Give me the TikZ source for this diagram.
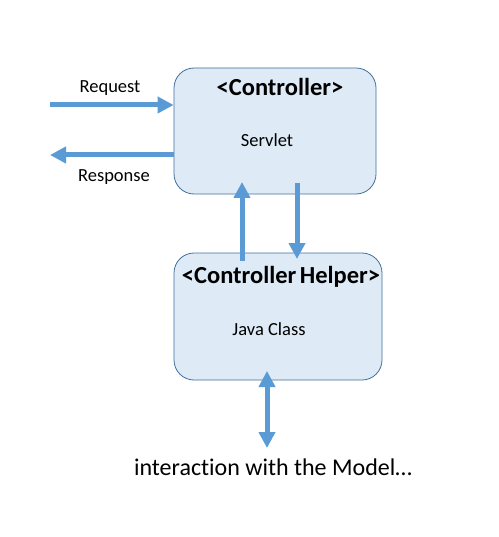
\documentclass[tikz,border=0pt]{standalone}
\usepackage{fontspec}
\setmainfont{Carlito}[Ligatures={NoCommon}]
\usetikzlibrary{arrows.meta}
\definecolor{boxfill}{HTML}{DEEAF6}
\definecolor{boxdraw}{HTML}{41719C}
\definecolor{arrowblue}{HTML}{5B9BD5}
\begin{document}
\begin{tikzpicture}[x=1pt,y=-1pt,
  box/.style={draw=boxdraw,fill=boxfill,line width=0.8pt,rounded corners=20pt,inner sep=0pt},
  fat/.style={draw=arrowblue,line width=5pt,-{Triangle[width=16pt,length=16pt]}},
  fatboth/.style={draw=arrowblue,line width=5pt,{Triangle[width=16pt,length=16pt]}-{Triangle[width=16pt,length=16pt]}},
  lbl/.style={font=\fontsize{18.5}{21}\selectfont,inner sep=0pt},
  ttl/.style={font=\fontsize{24.5}{28}\selectfont\bfseries,inner sep=0pt}]
\path[use as bounding box,fill=white] (0,0) rectangle (498,537);
\node[box,minimum width=202pt,minimum height=126pt] (ctrl) at (275,131) {};
\node[box,minimum width=208pt,minimum height=127pt] (helper) at (278,316.5) {};
\node[ttl] (ctrltitle) at (280,87) {<Controller>};
\node[lbl] (servlet) at (267,140) {Servlet};
\node[ttl] (helpertitle) at (281,277) {<Controller\hspace{-2pt} Helper>};
\node[lbl] (java) at (269,329) {Java Class};
\node[lbl] (req) at (110,88) {Request};
\node[lbl] (resp) at (114,177) {Response};
\node[font=\fontsize{24}{27}\selectfont,inner sep=0pt] (model) at (273,467) {interaction with the Model\dots};
\coordinate (reqstart) at (50,105);
\coordinate (respend) at (50,155);
\coordinate (upstart) at (242,261);
\coordinate (upend) at (242,182);
\coordinate (downstart) at (297,183);
\coordinate (downend) at (297,259);
\coordinate (mtop) at (267,371);
\coordinate (mbot) at (267,448);
\draw[fat] (reqstart) -- (ctrl.west |- reqstart);
\draw[fat] (ctrl.west |- respend) -- (respend);
\draw[fat] (upstart) -- (upend);
\draw[fat] (downstart) -- (downend);
\draw[fatboth] (mtop) -- (mbot);
\end{tikzpicture}
\end{document}
